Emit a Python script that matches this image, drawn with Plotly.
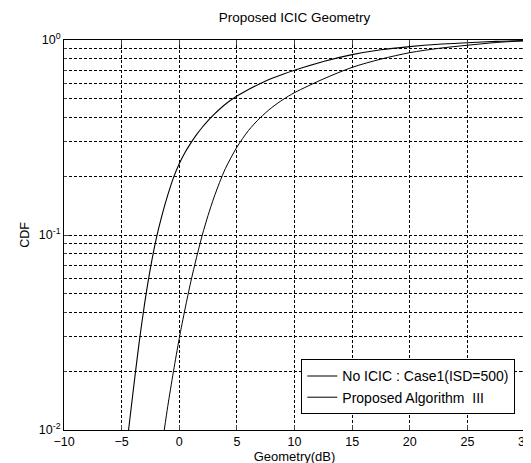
import plotly.graph_objects as go

# Data (Geometry in dB, CDF values)
noicic_x = [-4.4, -4.0, -3.5, -3.0, -2.5, -2.0, -1.5, -1.0, -0.5, 0.0, 0.5, 1.0, 1.5, 2.0, 2.5,
            3.0, 4.0, 5.0, 6.0, 7.0, 8.0, 9.0, 10.0, 12.5, 15.0, 17.5, 20.0, 22.5, 25.0, 27.5, 30.0]
noicic_y = [0.01, 0.0158, 0.0275, 0.0447, 0.0676, 0.0955, 0.126, 0.160, 0.197, 0.232, 0.265,
            0.296, 0.327, 0.357, 0.386, 0.414, 0.468, 0.516, 0.558, 0.597, 0.634, 0.668, 0.700,
            0.776, 0.841, 0.891, 0.925, 0.951, 0.968, 0.984, 0.993]

prop_x = [-1.3, -1.0, -0.5, 0.0, 0.5, 1.0, 1.5, 2.0, 2.5, 3.0, 3.5, 4.0, 5.0, 6.0, 7.0, 8.0,
          9.0, 10.0, 12.5, 15.0, 17.5, 20.0, 22.5, 25.0, 27.5, 30.0]
prop_y = [0.01, 0.0132, 0.02, 0.0295, 0.0417, 0.0575, 0.0767, 0.1, 0.126, 0.155, 0.186, 0.219,
          0.282, 0.343, 0.398, 0.449, 0.495, 0.537, 0.631, 0.724, 0.798, 0.861, 0.906, 0.940,
          0.971, 0.991]

series_names = ["No ICIC : Case1(ISD=500)", "Proposed Algorithm &nbsp;III"]

x_tickvals = [-10, -5, 0, 5, 10, 15, 20, 25, 30]
y_tickvals = [0.01, 0.1, 1]
y_ticktext = ["10<sup>-2</sup>", "10<sup>-1</sup>", "10<sup>0</sup>"]
y_minor_vals = [0.02, 0.03, 0.04, 0.05, 0.06, 0.07, 0.08, 0.09,
                0.2, 0.3, 0.4, 0.5, 0.6, 0.7, 0.8, 0.9]

FONT = "Liberation Sans, Arial, sans-serif"

fig = go.Figure()
fig.add_trace(go.Scatter(x=noicic_x, y=noicic_y, mode="lines", name=series_names[0],
                         line=dict(color="black", width=1.1, shape="spline", smoothing=0.8)))
fig.add_trace(go.Scatter(x=prop_x, y=prop_y, mode="lines", name=series_names[1],
                         line=dict(color="black", width=1.0, shape="spline", smoothing=0.8)))

grid_dash = "3px,2px"

fig.update_layout(
    width=531, height=463,
    margin=dict(l=56, r=7, t=32, b=41),
    paper_bgcolor="white", plot_bgcolor="white",
    font=dict(family=FONT, size=12, color="black"),
    title=dict(text="Proposed ICIC Geometry", x=0.5, xanchor="center", xref="paper",
               y=1 - 9 / 463, yanchor="middle", font=dict(size=13.5, family=FONT)),
    showlegend=True,
    legend=dict(x=0.979, xanchor="right", y=0.04, yanchor="bottom",
                bgcolor="white", bordercolor="black", borderwidth=1,
                font=dict(size=14, family=FONT), tracegroupgap=0),
    xaxis=dict(range=[-10, 30], tickvals=x_tickvals, ticks="inside", ticklen=5,
               showline=True, linecolor="black", linewidth=1, mirror="ticks",
               showgrid=True, gridcolor="black", gridwidth=1, griddash=grid_dash,
               zeroline=False, tickfont=dict(size=12.5),
               title=dict(text="Geometry(dB)", standoff=3, font=dict(size=13))),
    yaxis=dict(type="log", range=[-2, 0], tickvals=y_tickvals, ticktext=y_ticktext,
               ticks="inside", ticklen=5,
               showline=True, linecolor="black", linewidth=1, mirror="ticks",
               showgrid=True, gridcolor="black", gridwidth=1, griddash=grid_dash,
               zeroline=False, tickfont=dict(size=12.5),
               minor=dict(tickvals=y_minor_vals, showgrid=True, gridcolor="black",
                          gridwidth=1, griddash=grid_dash, ticks="inside", ticklen=3),
               title=dict(text="CDF", standoff=6, font=dict(size=12.5))),
)

fig.write_html("out.html")
